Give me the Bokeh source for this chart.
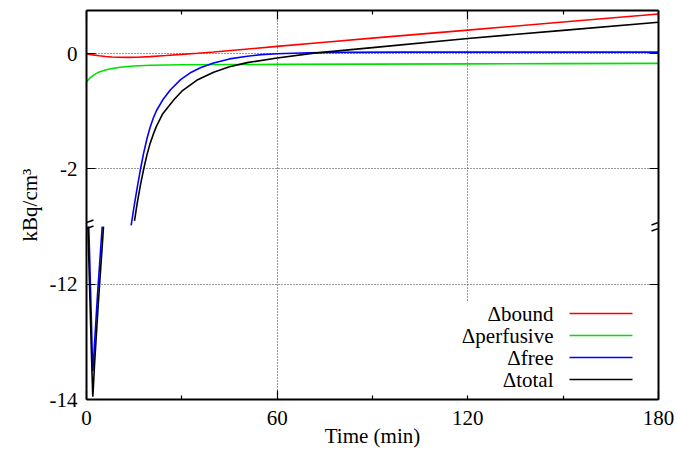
from bokeh.plotting import figure
from bokeh.models import (Range1d, LinearAxis, FixedTicker, Arrow, BoxAnnotation,
                          CustomLabelingPolicy)
from bokeh.core.properties import value
from bokeh.embed import file_html
from bokeh.resources import INLINE

# ---------------- data ----------------
bound_t = [0, 2, 4, 6, 8, 10, 13, 16, 20, 25, 30, 35, 40, 50, 60, 75, 90, 105, 120, 150, 180]
bound_v = [0.0, -0.02, -0.035, -0.048, -0.057, -0.062, -0.064, -0.06, -0.05, -0.032, -0.012,
           0.008, 0.03, 0.078, 0.128, 0.2, 0.27, 0.34, 0.41, 0.55, 0.69]

perf_t = [0, 0.5, 1, 1.5, 2, 3, 4, 5, 6, 8, 10, 12, 15, 20, 30, 45, 60, 90, 120, 150, 180]
perf_v = [-0.49, -0.455, -0.425, -0.4, -0.38, -0.345, -0.318, -0.298, -0.282, -0.258, -0.24,
          -0.225, -0.212, -0.2, -0.192, -0.188, -0.185, -0.18, -0.176, -0.172, -0.168]

# free: part above the axis break and part below it
free_up_t = [14.05, 15, 16, 17, 18, 19, 20, 21, 22, 24, 26.5, 29.6, 33, 36, 40, 45, 50.6, 55,
             60, 70, 80, 100, 130, 180]
free_up_v = [-2.98, -2.64, -2.31, -2.0, -1.72, -1.48, -1.28, -1.12, -0.99, -0.8, -0.62, -0.45,
             -0.32, -0.24, -0.16, -0.09, -0.045, -0.015, 0.0, 0.017, 0.023, 0.027, 0.028, 0.028]
free_lo_t = [0.72, 1.0, 1.3, 1.6, 1.8, 1.98, 2.15, 2.5, 3.0, 3.5, 4.0, 4.5, 4.94]
free_lo_v = [-11.0, -11.55, -12.15, -12.75, -13.2, -13.51, -13.4, -13.05, -12.6, -12.15,
             -11.75, -11.35, -11.0]

# total: part above the axis break and part below it
total_up_t = [15.1, 16, 17, 18, 19, 20, 21, 22, 24, 27.5, 30, 35, 40, 45, 50.6, 60, 71.6, 90,
              120, 150, 180]
total_up_v = [-2.9, -2.58, -2.27, -2.0, -1.76, -1.56, -1.4, -1.26, -1.04, -0.8, -0.65, -0.45,
              -0.32, -0.225, -0.155, -0.075, 0.01, 0.105, 0.265, 0.405, 0.545]
total_lo_t = [0.45, 0.8, 1.2, 1.5, 1.8, 1.98, 2.15, 2.5, 3.0, 3.5, 4.0, 4.5, 5.0, 5.35]
total_lo_v = [-11.0, -11.7, -12.5, -13.1, -13.65, -13.95, -13.8, -13.42, -12.97, -12.52,
              -12.1, -11.7, -11.3, -11.0]

x_ticks = [0, 60, 120, 180]
x_minor_ticks = [30, 90, 150]
x_grid = [60, 120]
y_ticks = [-14, -12, -2, 0]
y_grid = [-12, -2, 0]
upper_lim = (-3.0, 0.75)
lower_lim = (-14.0, -11.0)
x_lim = (0, 180)

x_title = "Time (min)"
y_title = "kBq/cm\u00b3"
legend_labels = ["\u0394bound", "\u0394perfusive", "\u0394free", "\u0394total"]
colors = ["#ff0000", "#00e000", "#0000ff", "#000000"]

FONT = "Liberation Serif"
FS = "21px"

# ---------------- layout ----------------
W, H = 678, 450
BL, BR, BT, BB = 86, 20, 10, 49
FW, FH = W - BL - BR, H - BT - BB

lower_span = lower_lim[1] - lower_lim[0]
main_start = upper_lim[0] - lower_span       # lower panel stacked under the upper one
main_end = upper_lim[1]


def ypos(v):
    return v if v >= upper_lim[0] else v - lower_lim[1] + upper_lim[0]


def sx_to_data(px):
    return x_lim[0] + px / FW * (x_lim[1] - x_lim[0])


def sy_to_data(py):
    return main_start + py / FH * (main_end - main_start)


p = figure(width=W, height=H, x_range=Range1d(*x_lim), y_range=Range1d(main_start, main_end),
           output_backend="svg", toolbar_location=None,
           min_border_left=BL, min_border_right=BR, min_border_top=BT, min_border_bottom=BB,
           outline_line_color=None, background_fill_color="white", border_fill_color="white")
p.extra_y_ranges = {"lower": Range1d(lower_lim[0], lower_lim[0] + (main_end - main_start))}

# grids
p.xgrid.ticker = FixedTicker(ticks=x_grid)
p.ygrid.ticker = FixedTicker(ticks=[ypos(v) for v in y_grid])
for g in (p.xgrid[0], p.ygrid[0]):
    g.grid_line_color = "#000000"
    g.grid_line_dash = "1 2"
    g.grid_line_width = 1
    g.grid_line_alpha = 0.8

# axes (gnuplot style: inward ticks, mirrored on top/right)
xt = FixedTicker(ticks=x_ticks, minor_ticks=x_minor_ticks)
yt = FixedTicker(ticks=[ypos(v) for v in y_ticks], minor_ticks=[])
xa = p.xaxis[0]
ya = p.yaxis[0]
xa.ticker = xt
ya.ticker = yt
ya.major_label_overrides = {ypos(v): str(v) for v in y_ticks}
xa.axis_label = x_title
ya.axis_label = y_title

top = LinearAxis(ticker=xt)
right = LinearAxis(ticker=yt)
p.add_layout(top, "above")
p.add_layout(right, "right")

for ax in (xa, ya, top, right):
    ax.axis_line_color = "#000000"
    ax.axis_line_width = 2
    ax.major_tick_line_color = "#000000"
    ax.minor_tick_line_color = "#000000"
    ax.major_tick_line_width = 1.2
    ax.minor_tick_line_width = 1.2
    ax.major_tick_in = 9
    ax.major_tick_out = 0
    ax.minor_tick_in = 4
    ax.minor_tick_out = 0
    ax.major_label_text_font = FONT
    ax.major_label_text_font_size = FS
    ax.major_label_text_color = "#000000"
    ax.axis_label_text_font = FONT
    ax.axis_label_text_font_size = FS
    ax.axis_label_text_font_style = "normal"
    ax.axis_label_text_color = "#000000"

for ax in (top, right):
    ax.major_label_policy = CustomLabelingPolicy(code="return new Set()")
    ax.major_label_standoff = 0
    ax.major_label_text_font_size = "1px"

xa.major_label_standoff = 11
xa.axis_label_standoff = -4
ya.major_label_standoff = 9
ya.axis_label_standoff = 5

# curves
LW = 1.6
p.line(bound_t, bound_v, line_color=colors[0], line_width=LW)
p.line(perf_t, perf_v, line_color=colors[1], line_width=LW)
p.line(free_up_t, free_up_v, line_color=colors[2], line_width=LW)
p.line(free_lo_t, free_lo_v, line_color=colors[2], line_width=LW, y_range_name="lower")
p.line(total_up_t, total_up_v, line_color=colors[3], line_width=LW)
p.line(total_lo_t, total_lo_v, line_color=colors[3], line_width=LW, y_range_name="lower")

# opaque key area (hides the grid behind it, as in the reference)
p.add_layout(BoxAnnotation(left=369, right=560, bottom=4, top=98,
                           left_units="screen", right_units="screen",
                           bottom_units="screen", top_units="screen",
                           fill_color="white", fill_alpha=1.0, line_color=None))

# key: text right-aligned, line sample to its right
row_y = [86, 64, 42, 20]
key_text_x = 467
p.text(x=[sx_to_data(key_text_x)] * len(legend_labels), y=[sy_to_data(r) for r in row_y],
       text=legend_labels, text_font=value(FONT), text_font_size=value(FS),
       text_align="right", text_baseline="middle", text_color="#000000", level="overlay")
for col, yy in zip(colors, row_y):
    p.add_layout(Arrow(end=None, x_start=483, y_start=yy, x_end=546, y_end=yy,
                       start_units="screen", end_units="screen",
                       line_color=col, line_width=LW))

# break marks on left and right border
brk = FH - (227 - BT)
for x0 in (0, FW):
    for dy in (-3, 3):
        p.add_layout(Arrow(end=None, x_start=x0 - 7, y_start=brk + dy - 2.5,
                           x_end=x0 + 7, y_end=brk + dy + 2.5,
                           start_units="screen", end_units="screen",
                           line_color="#000000", line_width=1.4))

open("out.html", "w").write(file_html(p, INLINE))
